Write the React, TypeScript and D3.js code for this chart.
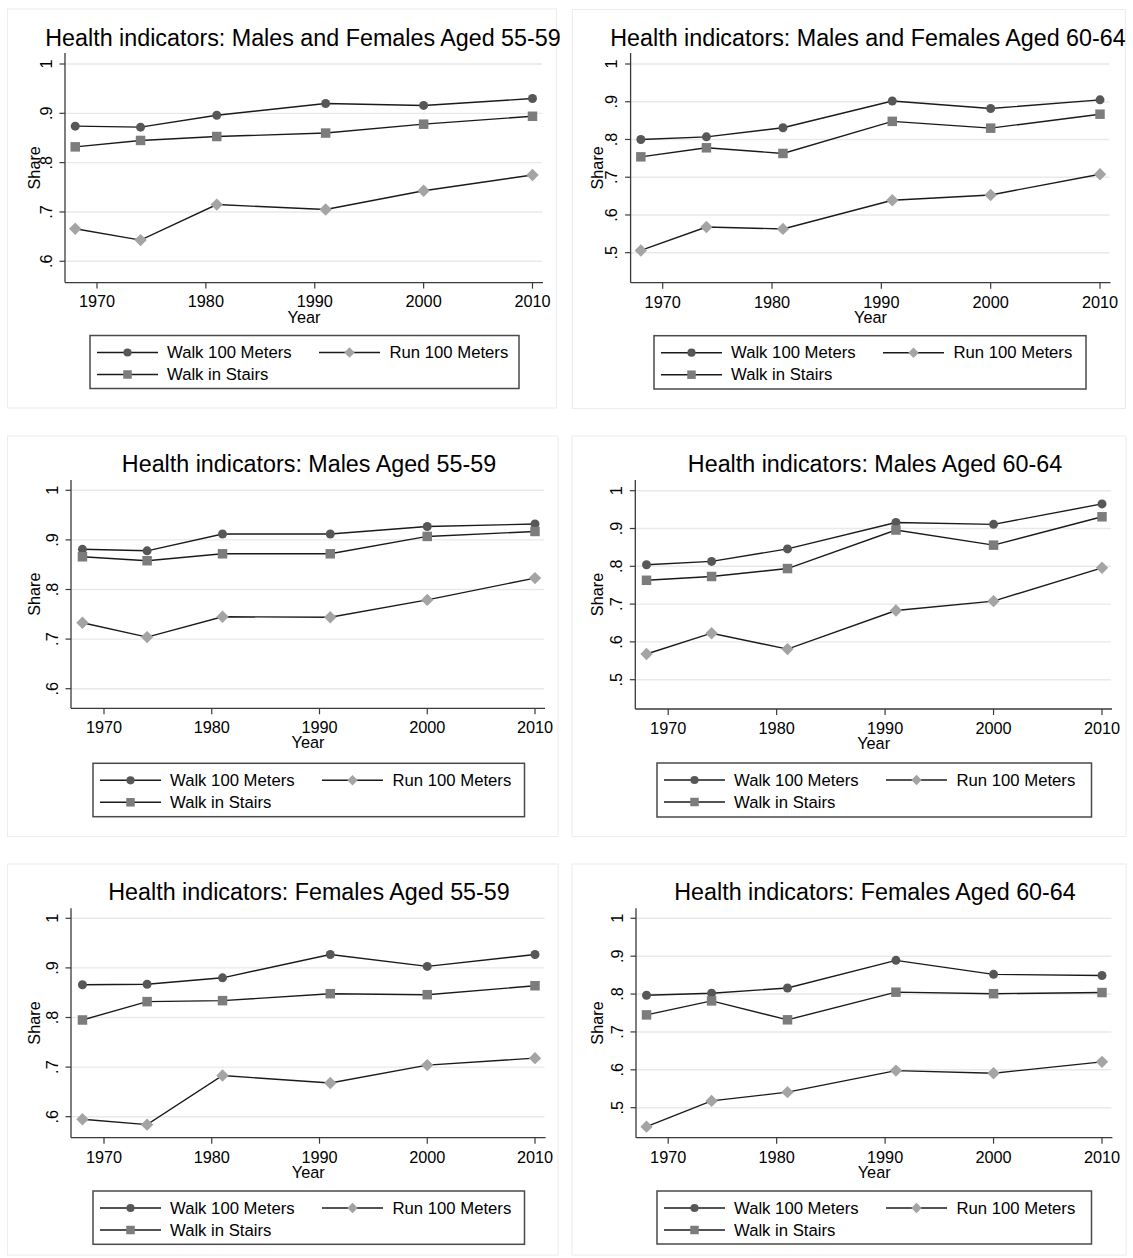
import React from "react";
import * as d3 from "d3";

// ---------- data ----------
const years = [1968, 1974, 1981, 1991, 2000, 2010];
const xTickYears = [1970, 1980, 1990, 2000, 2010];
const seriesLabels = ["Walk 100 Meters", "Run 100 Meters", "Walk in Stairs"];
const panelTitles = [
  "Health indicators: Males and Females Aged 55-59",
  "Health indicators: Males and Females Aged 60-64",
  "Health indicators: Males Aged 55-59",
  "Health indicators: Males Aged 60-64",
  "Health indicators: Females Aged 55-59",
  "Health indicators: Females Aged 60-64",
];
const yTicksFrom6 = [0.6, 0.7, 0.8, 0.9, 1];
const yTicksFrom5 = [0.5, 0.6, 0.7, 0.8, 0.9, 1];

const walkAll5559 = [0.874, 0.872, 0.896, 0.92, 0.916, 0.93];
const runAll5559 = [0.666, 0.643, 0.715, 0.705, 0.743, 0.775];
const stairsAll5559 = [0.832, 0.845, 0.853, 0.86, 0.878, 0.894];

const walkAll6064 = [0.8, 0.807, 0.831, 0.902, 0.882, 0.905];
const runAll6064 = [0.506, 0.568, 0.563, 0.639, 0.653, 0.708];
const stairsAll6064 = [0.754, 0.778, 0.763, 0.848, 0.83, 0.867];

const walkMale5559 = [0.881, 0.878, 0.912, 0.912, 0.927, 0.932];
const runMale5559 = [0.733, 0.704, 0.745, 0.744, 0.779, 0.823];
const stairsMale5559 = [0.866, 0.858, 0.872, 0.872, 0.907, 0.917];

const walkMale6064 = [0.804, 0.813, 0.846, 0.916, 0.911, 0.965];
const runMale6064 = [0.568, 0.623, 0.581, 0.683, 0.708, 0.796];
const stairsMale6064 = [0.763, 0.773, 0.794, 0.896, 0.856, 0.931];

const walkFemale5559 = [0.866, 0.867, 0.88, 0.927, 0.903, 0.927];
const runFemale5559 = [0.595, 0.584, 0.683, 0.668, 0.704, 0.718];
const stairsFemale5559 = [0.795, 0.832, 0.834, 0.848, 0.846, 0.864];

const walkFemale6064 = [0.797, 0.802, 0.816, 0.889, 0.852, 0.849];
const runFemale6064 = [0.45, 0.518, 0.541, 0.598, 0.591, 0.621];
const stairsFemale6064 = [0.745, 0.782, 0.732, 0.805, 0.801, 0.804];

const panelSeries = [
  [walkAll5559, runAll5559, stairsAll5559],
  [walkAll6064, runAll6064, stairsAll6064],
  [walkMale5559, runMale5559, stairsMale5559],
  [walkMale6064, runMale6064, stairsMale6064],
  [walkFemale5559, runFemale5559, stairsFemale5559],
  [walkFemale6064, runFemale6064, stairsFemale6064],
];
const panelTicks = [yTicksFrom6, yTicksFrom5, yTicksFrom6, yTicksFrom5, yTicksFrom6, yTicksFrom5];

// ---------- layout (pixel positions) ----------
type Layout = {
  axX: number; right: number; top: number; axY: number;
  x1970: number; x2010: number; y1: number; yLo: number;
  titleX: number; titleY: number; shareX: number;
  legX: number; legY: number; legW: number; legH: number;
  border: [number, number, number, number];
};
const layouts: Layout[] = [
  { axX: 65, right: 543, top: 53, axY: 282.6, x1970: 97, x2010: 532.5, y1: 64, yLo: 261.3, titleX: 303, titleY: 45.5, shareX: 33.7, legX: 90, legY: 335.5, legW: 429, legH: 53, border: [7.5, 9, 549, 399] },
  { axX: 630.6, right: 1110.5, top: 53, axY: 282.7, x1970: 662.7, x2010: 1100, y1: 64, yLo: 252.7, titleX: 868, titleY: 45.5, shareX: 596.5, legX: 654, legY: 335.7, legW: 432, legH: 53.3, border: [572.3, 9.5, 553, 399] },
  { axX: 71, right: 545, top: 480, axY: 708.3, x1970: 104, x2010: 535, y1: 490.3, yLo: 688.7, titleX: 309, titleY: 471.5, shareX: 33.7, legX: 93, legY: 763.3, legW: 431.5, legH: 53.4, border: [7.5, 436, 550.5, 400.5] },
  { axX: 635.3, right: 1112, top: 480, axY: 709, x1970: 668.2, x2010: 1102, y1: 490.7, yLo: 679.7, titleX: 875, titleY: 471.5, shareX: 596.5, legX: 657, legY: 763, legW: 434.5, legH: 54, border: [572, 436, 554, 400.5] },
  { axX: 71, right: 545.6, top: 908.3, axY: 1137.7, x1970: 104, x2010: 535, y1: 918.3, yLo: 1116.7, titleX: 309, titleY: 900, shareX: 33.7, legX: 93, legY: 1191, legW: 431.5, legH: 53.3, border: [7.5, 864, 550.5, 391] },
  { axX: 636, right: 1112.4, top: 908.3, axY: 1137.7, x1970: 668.2, x2010: 1102, y1: 918.3, yLo: 1107.7, titleX: 875, titleY: 900, shareX: 596.5, legX: 657, legY: 1191, legW: 434.5, legH: 53, border: [572, 864, 554, 391] },
];

const FONT = "'Liberation Sans', Arial, Helvetica, sans-serif";
const AXIS_FS = 16.3;
const markerFill = ["#575757", "#a4a4a4", "#7c7c7c"];
// marker "radius" values: circle radius, diamond half-diagonal, square half-side
const plotMarkerR = [4.5, 6.2, 4.75];
const legendMarkerR = [4.1, 5.2, 4.25];

function symbolPath(i: number, r: number) {
  if (i === 1) return `M0,${-r}L${r},0L0,${r}L${-r},0Z`;
  if (i === 2) return `M${-r},${-r}H${r}V${r}H${-r}Z`;
  return d3.symbol(d3.symbolCircle, Math.PI * r * r)() as string;
}

function fmtTick(v: number) {
  if (v === 1) return "1";
  return "." + Math.round(v * 10);
}

function Panel({ idx }: { idx: number }) {
  const L = layouts[idx];
  const ticks = panelTicks[idx];
  const lo = ticks[0];
  const x = d3.scaleLinear().domain([1970, 2010]).range([L.x1970, L.x2010]);
  const y = d3.scaleLinear().domain([lo, 1]).range([L.yLo, L.y1]);
  const line = d3
    .line<[number, number]>()
    .x((d) => x(d[0]))
    .y((d) => y(d[1]));
  const series = panelSeries[idx];
  const [bx, by, bw, bh] = L.border;
  const labelX = L.axX - 19.5;
  const midY = (L.top + L.axY) / 2;
  const legRow1 = L.legY + 17;
  const legRow2 = L.legY + 39;
  const legendItems = [
    { s: 0, lx: L.legX + 7, ty: legRow1, tx: L.legX + 77 },
    { s: 1, lx: L.legX + 229, ty: legRow1, tx: L.legX + 299.5 },
    { s: 2, lx: L.legX + 7, ty: legRow2, tx: L.legX + 77 },
  ];
  return (
    <g>
      <rect x={bx} y={by} width={bw} height={bh} fill="#ffffff" stroke="#ececec" strokeWidth={1} />
      <text x={L.titleX} y={L.titleY} textAnchor="middle" fontSize={23.3} fontFamily={FONT} fill="#000">
        {panelTitles[idx]}
      </text>
      {ticks.map((t) => (
        <line key={"g" + t} x1={L.axX} x2={L.right - 1} y1={y(t)} y2={y(t)} stroke="#e9e9e9" strokeWidth={1.4} />
      ))}
      <line x1={L.axX} x2={L.axX} y1={L.top} y2={L.axY} stroke="#3a3a3a" strokeWidth={1.3} />
      <line x1={L.axX} x2={L.right} y1={L.axY} y2={L.axY} stroke="#3a3a3a" strokeWidth={1.3} />
      {ticks.map((t) => (
        <g key={"yt" + t}>
          <line x1={L.axX - 5.5} x2={L.axX} y1={y(t)} y2={y(t)} stroke="#3a3a3a" strokeWidth={1.2} />
          <text
            transform={`translate(${labelX},${y(t)}) rotate(-90)`}
            textAnchor="middle"
            dominantBaseline="central"
            fontSize={AXIS_FS}
            fontFamily={FONT}
            fill="#000"
          >
            {fmtTick(t)}
          </text>
        </g>
      ))}
      {xTickYears.map((t) => (
        <g key={"xt" + t}>
          <line x1={x(t)} x2={x(t)} y1={L.axY} y2={L.axY + 6} stroke="#3a3a3a" strokeWidth={1.2} />
          <text x={x(t)} y={L.axY + 24.8} textAnchor="middle" fontSize={AXIS_FS} fontFamily={FONT} fill="#000">
            {t}
          </text>
        </g>
      ))}
      <text x={(L.axX + L.right) / 2} y={L.axY + 40} textAnchor="middle" fontSize={AXIS_FS} fontFamily={FONT} fill="#000">
        Year
      </text>
      <text
        transform={`translate(${L.shareX},${midY}) rotate(-90)`}
        textAnchor="middle"
        dominantBaseline="central"
        fontSize={AXIS_FS}
        fontFamily={FONT}
        fill="#000"
      >
        Share
      </text>
      {series.map((vals, si) => (
        <path
          key={"l" + si}
          d={line(years.map((yr, i) => [yr, vals[i]] as [number, number])) as string}
          fill="none"
          stroke="#1a1a1a"
          strokeWidth={1.4}
        />
      ))}
      {series.map((vals, si) =>
        years.map((yr, i) => (
          <path
            key={"m" + si + "-" + i}
            d={symbolPath(si, plotMarkerR[si])}
            transform={`translate(${x(yr)},${y(vals[i])})`}
            fill={markerFill[si]}
          />
        ))
      )}
      <rect x={L.legX} y={L.legY} width={L.legW} height={L.legH} fill="#fff" stroke="#4a4a4a" strokeWidth={1.5} />
      {legendItems.map((it) => (
        <g key={"lg" + it.s}>
          <line x1={it.lx} x2={it.lx + 61} y1={it.ty} y2={it.ty} stroke="#1a1a1a" strokeWidth={1.4} />
          <path
            d={symbolPath(it.s, legendMarkerR[it.s])}
            transform={`translate(${it.lx + 30.5},${it.ty})`}
            fill={markerFill[it.s]}
          />
          <text x={it.tx} y={it.ty} dominantBaseline="central" fontSize={16.7} fontFamily={FONT} fill="#000">
            {seriesLabels[it.s]}
          </text>
        </g>
      ))}
    </g>
  );
}

export default function App() {
  return (
    <div style={{ position: "absolute", left: 0, top: 0 }}>
      <svg width={1133} height={1258} viewBox="0 0 1133 1258" style={{ display: "block", background: "#fff" }}>
        <rect x={0} y={0} width={1133} height={1258} fill="#fff" />
        {layouts.map((_, i) => (
          <Panel key={i} idx={i} />
        ))}
      </svg>
    </div>
  );
}
